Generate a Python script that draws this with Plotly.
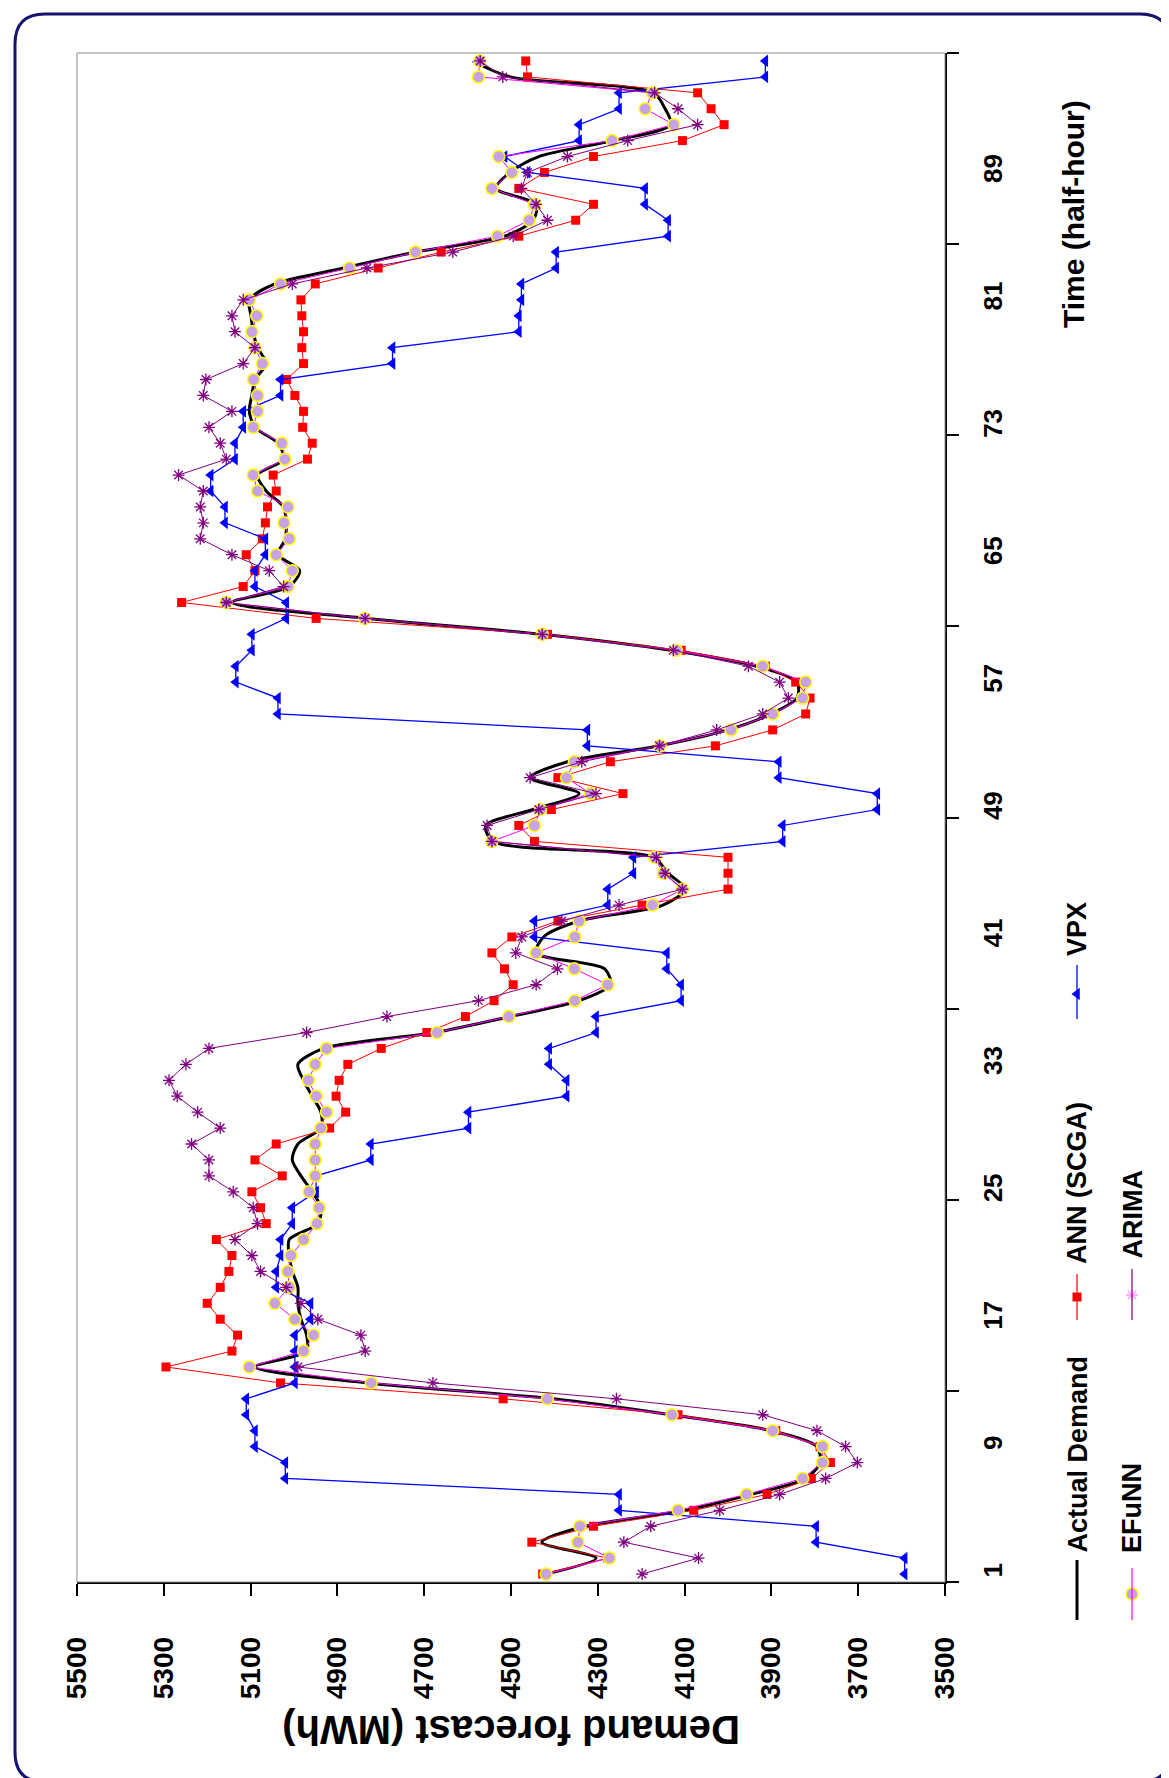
import plotly.graph_objects as go

W, H = 1169, 1778

# ---------------- data (half-hour index 1..96) ----------------
time = list(range(1, 97))

actual = [4419, 4304, 4429, 4330, 4099, 3947, 3821, 3788, 3795, 3901,
          4132, 4403, 4830, 5090, 4971, 4971, 4984, 4991, 4991, 5004,
          5011, 5011, 4945, 4938, 4958, 4984, 5004, 4991, 4938, 4938,
          4958, 4978, 4991, 4932, 4674, 4502, 4343, 4271, 4284, 4442,
          4425, 4343, 4150, 4099, 4138, 4172, 4542, 4558, 4449, 4343,
          4456, 4370, 4158, 4000, 3901, 3841, 3841, 3934, 4132, 4428,
          4832, 5143, 5011, 4987, 5037, 5020, 5018, 5024, 5064, 5084,
          5024, 5037, 5090, 5103, 5097, 5090, 5064, 5084, 5094, 5099,
          5103, 5044, 4885, 4720, 4515, 4449, 4442, 4535, 4502, 4436,
          4264, 4132, 4145, 4172, 4502, 4588]

ann = [4427, 4277, 4452, 4310, 4079, 3910, 3808, 3764, 3788, 3890,
       4115, 4518, 5031, 5295, 5143, 5130, 5170, 5200, 5170, 5150,
       5143, 5179, 5064, 5077, 5097, 5027, 5090, 5041, 4918, 4881,
       4903, 4896, 4876, 4799, 4694, 4605, 4539, 4495, 4515, 4544,
       4498, 4392, 4198, 4000, 4000, 4000, 4446, 4482, 4407, 4242,
       4392, 4271, 4029, 3897, 3821, 3811, 3844, 3914, 4108, 4416,
       4949, 5259, 5117, 5090, 5110, 5073, 5066, 5061, 5041, 5048,
       4969, 4958, 4980, 4978, 4998, 5017, 4978, 4982, 4978, 4982,
       4984, 4951, 4806, 4661, 4482, 4351, 4310, 4482, 4423, 4310,
       4105, 4009, 4039, 4070, 4462, 4466]

vpx = [3593, 3593, 3797, 3797, 4251, 4251, 5020, 5020, 5090, 5090,
       5110, 5110, 4998, 4998, 4998, 4998, 4962, 4962, 5041, 5041,
       5031, 5031, 5004, 5004, 4949, 4949, 4823, 4823, 4598, 4598,
       4372, 4372, 4412, 4412, 4304, 4304, 4108, 4108, 4141, 4141,
       4446, 4446, 4277, 4277, 4218, 4218, 3874, 3874, 3656, 3656,
       3883, 3883, 4324, 4324, 5037, 5037, 5134, 5134, 5097, 5097,
       5018, 5018, 5090, 5090, 5066, 5066, 5159, 5159, 5192, 5192,
       5136, 5136, 5117, 5117, 5031, 5031, 4773, 4773, 4482, 4482,
       4476, 4476, 4396, 4396, 4138, 4138, 4191, 4191, 4462, 4515,
       4343, 4343, 4251, 4251, 3914, 3914]

efunn = [4419, 4273, 4346, 4341, 4115, 3957, 3828, 3782, 3782, 3897,
         4129, 4416, 4822, 5103, 4978, 4955, 4998, 5044, 5011, 5014,
         5007, 4978, 4947, 4942, 4965, 4951, 4951, 4951, 4938, 4925,
         4949, 4967, 4951, 4925, 4670, 4505, 4353, 4277, 4354, 4442,
         4353, 4343, 4174, 4105, 4149, 4169, 4544, 4446, 4432, 4317,
         4372, 4354, 4156, 3993, 3897, 3828, 3821, 3920, 4119, 4428,
         4837, 5156, 5014, 5004, 5041, 5011, 5023, 5014, 5084, 5094,
         5021, 5028, 5094, 5084, 5084, 5093, 5073, 5090, 5097, 5086,
         5103, 5031, 4872, 4720, 4531, 4458, 4446, 4544, 4498, 4528,
         4267, 4125, 4191, 4174, 4575, 4572]

arima = [4198, 4068, 4240, 4178, 4019, 3881, 3775, 3702, 3729, 3795,
         3920, 4257, 4680, 4991, 4836, 4846, 4945, 4984, 5018, 5077,
         5097, 5136, 5084, 5094, 5140, 5196, 5196, 5236, 5170, 5222,
         5269, 5288, 5249, 5196, 4971, 4786, 4575, 4442, 4393, 4489,
         4475, 4383, 4251, 4105, 4145, 4165, 4544, 4555, 4436, 4304,
         4456, 4337, 4158, 4026, 3920, 3861, 3881, 3953, 4126, 4428,
         4836, 5156, 5024, 5057, 5143, 5216, 5209, 5216, 5209, 5266,
         5156, 5170, 5196, 5143, 5209, 5203, 5117, 5090, 5136, 5143,
         5117, 5004, 4832, 4634, 4495, 4416, 4442, 4476, 4462, 4370,
         4231, 4070, 4115, 4169, 4519, 4571]

value_ticks = list(range(3500, 5501, 200))
time_label_ticks = list(range(1, 97, 8))
time_mark_ticks = [0.5 + 12 * k for k in range(9)]

series_names = ["Actual Demand", "ANN (SCGA)", "VPX", "EFuNN", "ARIMA"]

# ---------------- layout geometry (pixels) ----------------
PL, PR, PT, PB = 69, 937, 45, 1574
FONT = "Arial, Liberation Sans, sans-serif"

fig = go.Figure()

fig.add_trace(go.Scatter(x=actual, y=time, mode="lines", name=series_names[0],
                         line=dict(color="black", width=3, shape="spline", smoothing=0.8)))
fig.add_trace(go.Scatter(x=ann, y=time, mode="lines+markers", name=series_names[1],
                         line=dict(color="#ff0000", width=1),
                         marker=dict(symbol="square", size=9, color="#ff0000")))
fig.add_trace(go.Scatter(x=vpx, y=time, mode="lines+markers", name=series_names[2],
                         line=dict(color="#0000ff", width=1.3),
                         marker=dict(symbol="triangle-left", size=11, color="#0000ff")))
fig.add_trace(go.Scatter(x=efunn, y=time, mode="lines+markers", name=series_names[3],
                         line=dict(color="#ff00ff", width=1),
                         marker=dict(symbol="circle", size=12, color="#c8a2e8",
                                     line=dict(color="#ffff00", width=1.5))))
fig.add_trace(go.Scatter(x=arima, y=time, mode="lines+markers", name=series_names[4],
                         line=dict(color="#800080", width=1),
                         marker=dict(symbol="asterisk-open", size=10,
                                     line=dict(color="#800080", width=1.3))))

# ---------------- manual rotated legend (pixel overlay axes) ----------------
legend_items = [
    (series_names[0], 1069, 1552, 1612, None, 1547, "black", 3, None),
    (series_names[1], 1069, 1266, 1312, 1289, 1258, "#ff0000", 1.2,
     dict(symbol="square", size=9, color="#ff0000")),
    (series_names[2], 1069, 957, 1011, 986, 950, "#0000ff", 1.3,
     dict(symbol="triangle-left", size=11, color="#0000ff")),
    (series_names[3], 1124, 1560, 1612, 1586, 1547, "#ff00ff", 1.2,
     dict(symbol="circle", size=12, color="#c8a2e8", line=dict(color="#ffff00", width=1.5))),
    (series_names[4], 1124, 1261, 1312, 1287, 1253, "#800080", 1.2,
     dict(symbol="asterisk-open", size=10, line=dict(color="#800080", width=1.3))),
]

shapes = []
annotations = []

# outer rounded border
r = 30
x0, y0, x1, y1 = 7, 6, 1162, 1774
path = (f"M {x0 + r},{y0} L {x1 - r},{y0} Q {x1},{y0} {x1},{y0 + r} "
        f"L {x1},{y1 - r} Q {x1},{y1} {x1 - r},{y1} L {x0 + r},{y1} "
        f"Q {x0},{y1} {x0},{y1 - r} L {x0},{y0 + r} Q {x0},{y0} {x0 + r},{y0} Z")
shapes.append(dict(type="path", path=path, xref="x2", yref="y2",
                   line=dict(color="#14146e", width=3), layer="below"))

# plot-area frame (grey)
shapes.append(dict(type="rect", xref="x2", yref="y2", x0=PL, x1=PR, y0=PT, y1=PB,
                   line=dict(color="#8c8c8c", width=1), layer="below"))

for name, lx, ly0, ly1, my, ty, col, lw, mk in legend_items:
    shapes.append(dict(type="line", xref="x2", yref="y2", x0=lx, x1=lx, y0=ly0, y1=ly1,
                       line=dict(color=col, width=lw)))
    if mk is not None:
        fig.add_trace(go.Scatter(x=[lx], y=[my], mode="markers", marker=mk,
                                 xaxis="x2", yaxis="y2", hoverinfo="skip", showlegend=False))
    annotations.append(dict(xref="x2", yref="y2", x=lx, y=ty, text=name, textangle=-90,
                            showarrow=False, xanchor="center", yanchor="bottom",
                            font=dict(family=FONT, size=27, color="black", weight="bold")))

# axis titles (rotated)
annotations.append(dict(xref="x2", yref="y2", x=1065, y=206, text="Time (half-hour)",
                        textangle=-90, showarrow=False, xanchor="center", yanchor="middle",
                        font=dict(family=FONT, size=30, color="black", weight="bold")))
annotations.append(dict(xref="x2", yref="y2", x=503, y=1722, text="Demand forecast (MWh)",
                        textangle=180, showarrow=False, xanchor="center", yanchor="middle",
                        font=dict(family=FONT, size=40, color="black", weight="bold")))

fig.update_layout(
    width=W, height=H,
    margin=dict(l=0, r=0, t=0, b=0),
    paper_bgcolor="white", plot_bgcolor="rgba(0,0,0,0)",
    showlegend=False,
    xaxis=dict(domain=[PL / W, PR / W], range=[5500, 3500], anchor="y",
               tickvals=value_ticks, ticktext=[str(v) for v in value_ticks],
               tickangle=-90, ticks="outside", ticklen=12, tickcolor="black", tickwidth=1.5,
               showline=True, linecolor="black", linewidth=1.5,
               showgrid=False, zeroline=False, automargin=False,
               ticklabelstandoff=30,
               tickfont=dict(family=FONT, size=28, color="black", weight="bold")),
    yaxis=dict(domain=[1 - PB / H, 1 - PT / H], range=[0.5, 96.5], anchor="x", side="right",
               tickvals=time_label_ticks, ticktext=[str(v) for v in time_label_ticks],
               tickangle=-90, ticks="", showline=True, linecolor="black", linewidth=1.5,
               showgrid=False, zeroline=False, automargin=False,
               ticklabelstandoff=24,
               minor=dict(tickvals=time_mark_ticks, ticks="outside", ticklen=12,
                          tickcolor="black", tickwidth=1.5, showgrid=False),
               tickfont=dict(family=FONT, size=26, color="black", weight="bold")),
    xaxis2=dict(domain=[0, 1], range=[0, W], visible=False, anchor="y2", fixedrange=True),
    yaxis2=dict(domain=[0, 1], range=[H, 0], visible=False, anchor="x2", fixedrange=True),
    shapes=shapes,
    annotations=annotations,
)

fig.write_html("out.html")
